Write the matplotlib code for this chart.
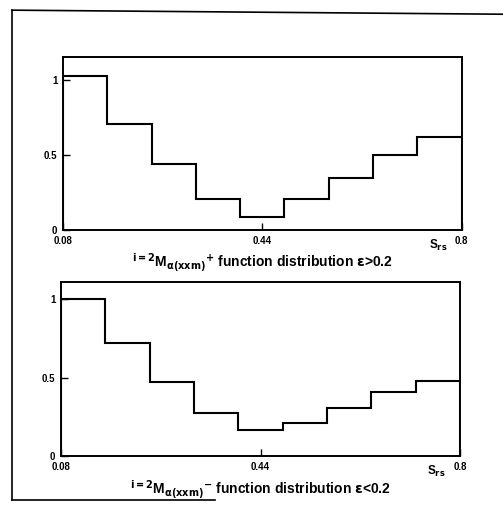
import numpy as np
import matplotlib
matplotlib.use('Agg')
import matplotlib.pyplot as plt
from matplotlib.lines import Line2D

plt.rcParams['font.family'] = ['Liberation Sans', 'DejaVu Sans']
plt.rcParams['font.weight'] = 'bold'
plt.rcParams['mathtext.default'] = 'bf'

# границы бинов по S_rs и значения распределений
bin_edges = [0.08, 0.16, 0.24, 0.32, 0.40, 0.48, 0.56, 0.64, 0.72, 0.80]
dist_plus = [1.03, 0.71, 0.44, 0.21, 0.09, 0.21, 0.35, 0.50, 0.62]
dist_minus = [1.00, 0.72, 0.475, 0.275, 0.165, 0.21, 0.31, 0.41, 0.48]

x_ticks = [0.08, 0.44, 0.8]
x_tick_labels = ['0.08', '0.44', '0.8']
y_ticks = [0, 0.5, 1]
y_tick_labels = ['0', '0.5', '1']

captions = [
    r'$^{i=2}$M$_{\alpha(xxm)}$$^{+}$ function distribution $\varepsilon$>0.2',
    r'$^{i=2}$M$_{\alpha(xxm)}$$^{-}$ function distribution $\varepsilon$<0.2',
]


def draw_panel(ax, values, caption, ymax):
    ax.stairs(values, bin_edges, color='black', linewidth=1.5)
    ax.set_xlim(bin_edges[0], bin_edges[-1])
    ax.set_ylim(0, ymax)
    ax.set_xticks(x_ticks)
    ax.set_xticklabels(x_tick_labels)
    ax.set_yticks(y_ticks)
    ax.set_yticklabels(y_tick_labels)
    ax.tick_params(direction='in', length=5, width=1, labelsize=7, pad=4)
    for lbl in ax.get_xticklabels() + ax.get_yticklabels():
        lbl.set_fontweight('bold')
    for s in ax.spines.values():
        s.set_linewidth(1.4)
    ax.text(0.94, -0.09, r'S$_{rs}$', transform=ax.transAxes, fontsize=8.5,
            ha='center', va='center')
    ax.text(0.5, -0.19, caption, transform=ax.transAxes, fontsize=10,
            ha='center', va='center')


fig = plt.figure(figsize=(5.03, 5.08), dpi=100)
ax1 = fig.add_axes([0.125, 0.547, 0.793, 0.341])
ax2 = fig.add_axes([0.121, 0.102, 0.794, 0.343])

draw_panel(ax1, dist_plus, captions[0], 1.155)
draw_panel(ax2, dist_minus, captions[1], 1.11)

# рамка вокруг рисунка
fig.add_artist(Line2D([0.024, 0.024], [0.016, 0.98], color='black', lw=1.2))
fig.add_artist(Line2D([0.024, 1.0], [0.98, 0.972], color='black', lw=1.2))
fig.add_artist(Line2D([0.024, 0.428], [0.016, 0.016], color='black', lw=1.2))

fig.savefig('out.png', dpi=100)
